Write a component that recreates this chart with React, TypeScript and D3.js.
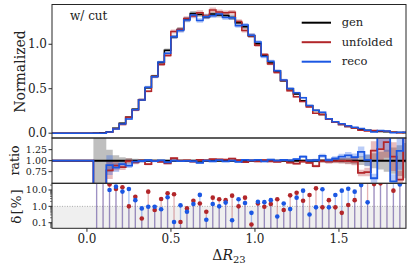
import React from "react";
import * as d3 from "d3";

// bin edges of the Delta R_23 histogram (50 bins)
const binEdges = [0, 0.0384, 0.0768, 0.1152, 0.1536, 0.192, 0.2304, 0.2688, 0.3072, 0.3456, 0.384, 0.4224, 0.4608, 0.4992, 0.5376, 0.576, 0.6144, 0.6528, 0.6912, 0.7296, 0.768, 0.8064, 0.8448, 0.8832, 0.9216, 0.96, 0.9984, 1.0368, 1.0752, 1.1136, 1.152, 1.1904, 1.2288, 1.2672, 1.3056, 1.344, 1.3824, 1.4208, 1.4592, 1.4976, 1.536, 1.5744, 1.6128, 1.6512, 1.6896, 1.728, 1.7664, 1.8048, 1.8432, 1.8816, 1.92];

const genVals = [0, 0.002, 0.005, 0.015, 0.056, 0.113, 0.18, 0.27, 0.377, 0.512, 0.64, 0.794, 0.933, 1.083, 1.167, 1.28, 1.347, 1.335, 1.31, 1.34, 1.328, 1.322, 1.3, 1.243, 1.196, 1.097, 1.005, 0.877, 0.79, 0.7, 0.59, 0.5, 0.44, 0.365, 0.31, 0.256, 0.211, 0.162, 0.124, 0.098, 0.076, 0.061, 0.045, 0.032, 0.024, 0.019, 0.015, 0.011, 0.008, 0.006];

const ratioUnf = [1, 0, 0, 0.78, 0.885, 0.854, 0.99, 0.961, 0.998, 0.921, 0.994, 0.972, 0.937, 1.055, 0.999, 1.0075, 0.978, 1.015, 1.0047, 1.034, 1.027, 1.024, 1.045, 1.01, 0.966, 0.9992, 0.985, 1.0095, 0.986, 0.973, 1.006, 0.953, 0.932, 0.978, 0.951, 0.874, 0.9913, 0.976, 0.9913, 0.996, 0.988, 0.976, 0.72, 0.74, 1.23, 1.26, 1.42, 1.091, 0.57, 1.6];

const ratioReco = [1, 0, 0, 0.9, 0.84, 0.92, 0.885, 0.976, 0.9925, 1.0095, 0.9905, 1.0066, 0.964, 1.001, 0.9885, 0.9953, 0.986, 0.95, 0.9985, 0.986, 1.01, 0.983, 0.9986, 0.973, 1.016, 1.004, 1.019, 0.982, 1.024, 1.0024, 1.015, 1.0068, 1.034, 1.091, 1.0032, 1.0087, 1.11, 1.0087, 1.049, 1.091, 1.12, 1.079, 1.2, 1.0176, 0.6, 1.6, 1.6, 0.53, 1.22, 1.6];

// relative stat. uncertainty per bin
const statErr = [0, 0.6, 0.6, 0.25, 0.12, 0.08, 0.06, 0.045, 0.035, 0.03, 0.025, 0.02, 0.02, 0.02, 0.02, 0.02, 0.02, 0.02, 0.02, 0.02, 0.02, 0.02, 0.02, 0.02, 0.02, 0.02, 0.02, 0.02, 0.02, 0.02, 0.02, 0.022, 0.025, 0.028, 0.03, 0.035, 0.04, 0.045, 0.05, 0.06, 0.07, 0.08, 0.1, 0.13, 0.17, 0.2, 0.25, 0.3, 0.35, 0.4];

// delta [%]
const deltaUnf: (number | null)[] = [null, 100, 100, 22, 11.5, 14.6, 1.0, 3.9, 0.18, 7.9, 0.6, 2.8, 6.3, 5.5, 0.11, 0.75, 2.2, 1.5, 0.47, 3.4, 2.7, 2.4, 4.5, 1.0, 3.4, 0.077, 1.5, 0.95, 1.4, 2.7, 0.6, 4.7, 6.8, 2.2, 4.9, 12.6, 0.87, 2.4, 0.87, 0.4, 1.2, 2.4, 28, 26, 23, 25.5, 42, 9.1, 43, 60];
const deltaReco: (number | null)[] = [null, 100, 100, 10, 16, 8, 11.5, 2.4, 0.75, 0.95, 0.95, 0.66, 3.6, 0.11, 1.15, 0.47, 1.4, 5.0, 0.15, 1.4, 1.0, 1.7, 0.14, 2.7, 1.6, 0.4, 1.9, 1.8, 2.4, 0.24, 1.5, 0.68, 3.4, 9.1, 0.32, 0.87, 11, 0.87, 4.9, 9.1, 12, 7.9, 20, 1.76, 40, 60, 60, 47, 22, 60];

const xTicks = [0.0, 0.5, 1.0, 1.5];
const topTicks = [0.0, 0.5, 1.0];
const ratioTicks = [0.75, 1.0, 1.25];
const deltaTicks = [0.1, 1.0, 10.0];

const legendItems = [
    { label: "gen", color: "#000000" },
    { label: "unfolded", color: "#b2262a" },
    { label: "reco", color: "#1b57e3" },
];

const RED = "#b2262a";
const BLUE = "#1b57e3";
const FONT = "DejaVu Serif";

const L = 52, R = 406;
const TOP = [4.5, 138];
const RAT = [138, 183.3];
const DEL = [183.3, 228.3];

function App() {
    const x = d3.scaleLinear().domain([-0.208, 1.899]).range([L, R]);
    const yTop = d3.scaleLinear().domain([-0.054, 1.447]).range([TOP[1], TOP[0]]);
    const yRat = d3.scaleLinear().domain([0.485, 1.515]).range([RAT[1], RAT[0]]);
    const yDel = d3.scaleLog().domain([0.0454, 25.7]).range([DEL[1], DEL[0]]);
    const delTop = 25.7;

    const n = genVals.length;
    const unfVals = genVals.map((g, i) => g * ratioUnf[i]);
    const recoVals = genVals.map((g, i) => g * ratioReco[i]);

    const stepLine = (vals: number[], pad: number, y: d3.ScaleLinear<number, number>) => {
        const pts: [number, number][] = [[x.domain()[0], pad]];
        vals.forEach((v, i) => pts.push([binEdges[i], v]));
        pts.push([binEdges[n], vals[n - 1]]);
        return d3.line<[number, number]>()
            .x(d => x(d[0]))
            .y(d => y(d[1]))
            .curve(d3.curveStepAfter)(pts) as string;
    };

    const stepBand = (lo: number[], hi: number[], y: d3.ScaleLinear<number, number>) => {
        const pts: [number, number, number][] = lo.map((v, i) => [binEdges[i], v, hi[i]]);
        pts.push([binEdges[n], lo[n - 1], hi[n - 1]]);
        return d3.area<[number, number, number]>()
            .x(d => x(d[0]))
            .y0(d => y(d[1]))
            .y1(d => y(d[2]))
            .curve(d3.curveStepAfter)(pts) as string;
    };

    const bandTop = (vals: number[]) => stepBand(vals.map((v, i) => v * (1 - statErr[i])), vals.map((v, i) => v * (1 + statErr[i])), yTop);
    const bandRat = (vals: number[]) => stepBand(vals.map((v, i) => v * (1 - statErr[i])), vals.map((v, i) => v * (1 + statErr[i])), yRat);
    const ones = genVals.map(() => 1);

    const centers = genVals.map((_, i) => (binEdges[i] + binEdges[i + 1]) / 2);

    const minorLog: number[] = [];
    [0.01, 0.1, 1, 10].forEach(dec => {
        for (let k = 2; k <= 9; k++) {
            const v = dec * k;
            if (v > 0.0454 && v < 25.7) minorLog.push(v);
        }
    });

    const frame = "#262626";

    return (
        <svg width={411} height={271} style={{ position: "absolute", left: 0, top: 0, background: "#fff" }} fontFamily={FONT}>
            <defs>
                <clipPath id="clipTop"><rect x={L} y={TOP[0]} width={R - L} height={TOP[1] - TOP[0]} /></clipPath>
                <clipPath id="clipRat"><rect x={L} y={RAT[0]} width={R - L} height={RAT[1] - RAT[0]} /></clipPath>
                <clipPath id="clipDel"><rect x={L} y={DEL[0]} width={R - L} height={DEL[1] - DEL[0]} /></clipPath>
            </defs>

            {/* top panel */}
            <g clipPath="url(#clipTop)">
                <path d={bandTop(genVals)} fill="#000" fillOpacity={0.25} />
                <path d={bandTop(unfVals)} fill={RED} fillOpacity={0.3} />
                <path d={bandTop(recoVals)} fill={BLUE} fillOpacity={0.3} />
                <path d={stepLine(genVals, 0, yTop)} fill="none" stroke="#000" strokeWidth={1.5} />
                <path d={stepLine(unfVals, 0, yTop)} fill="none" stroke={RED} strokeWidth={1.5} />
                <path d={stepLine(recoVals, 0, yTop)} fill="none" stroke={BLUE} strokeWidth={1.5} />
            </g>
            <rect x={L} y={TOP[0]} width={R - L} height={TOP[1] - TOP[0]} fill="none" stroke={frame} strokeWidth={1} />
            {topTicks.map(t => (
                <g key={t}>
                    <line x1={L - 3.5} x2={L} y1={yTop(t)} y2={yTop(t)} stroke={frame} />
                    <text x={L - 5} y={yTop(t)} dy="0.35em" textAnchor="end" fontSize={12} fill="#222">{t.toFixed(1)}</text>
                </g>
            ))}
            <text transform={`translate(20,71.5) rotate(-90)`} textAnchor="middle" dy="0.35em" fontSize={14} fill="#222">Normalized</text>
            <text x={70} y={20} fontSize={12} fill="#222">w/ cut</text>
            {legendItems.map((d, i) => (
                <g key={d.label}>
                    <line x1={301.7} x2={331} y1={22.7 + i * 19.5} y2={22.7 + i * 19.5} stroke={d.color} strokeWidth={2} />
                    <text x={341.7} y={22.7 + i * 19.5} dy="0.32em" fontSize={11.5} fill="#222">{d.label}</text>
                </g>
            ))}

            {/* ratio panel */}
            <g clipPath="url(#clipRat)">
                <path d={stepBand(ones.map((v, i) => v - statErr[i]), ones.map((v, i) => v + statErr[i]), yRat)} fill="#000" fillOpacity={0.25} />
                <path d={bandRat(ratioUnf)} fill={RED} fillOpacity={0.3} />
                <path d={bandRat(ratioReco)} fill={BLUE} fillOpacity={0.3} />
                <path d={stepLine(ones, 1, yRat)} fill="none" stroke="#000" strokeWidth={2} />
                <path d={stepLine(ratioUnf, 1, yRat)} fill="none" stroke={RED} strokeWidth={1.8} />
                <path d={stepLine(ratioReco, 1, yRat)} fill="none" stroke={BLUE} strokeWidth={1.8} />
            </g>
            <rect x={L} y={RAT[0]} width={R - L} height={RAT[1] - RAT[0]} fill="none" stroke={frame} strokeWidth={1} />
            {ratioTicks.map(t => (
                <g key={t}>
                    <line x1={L - 3.5} x2={L} y1={yRat(t)} y2={yRat(t)} stroke={frame} />
                    <text x={L - 5} y={yRat(t)} dy="0.35em" textAnchor="end" fontSize={9.5} fill="#222">{t.toFixed(2)}</text>
                </g>
            ))}
            <text transform={`translate(15,160.5) rotate(-90)`} textAnchor="middle" dy="0.35em" fontSize={12.5} fill="#222">ratio</text>

            {/* delta panel */}
            <rect x={L} y={yDel(1)} width={R - L} height={DEL[1] - yDel(1)} fill="#efefef" />
            <line x1={L} x2={R} y1={yDel(1)} y2={yDel(1)} stroke="#999" strokeWidth={0.8} strokeDasharray="1,1.5" />
            <g clipPath="url(#clipDel)">
                {centers.map((c, i) => {
                    const du = deltaUnf[i], dr = deltaReco[i];
                    return (
                        <g key={i}>
                            {du !== null && <line x1={x(c)} x2={x(c)} y1={DEL[1]} y2={yDel(Math.min(du, delTop * 2))} stroke={RED} strokeOpacity={0.35} strokeWidth={1.3} />}
                            {dr !== null && <line x1={x(c)} x2={x(c)} y1={DEL[1]} y2={yDel(Math.min(dr, delTop * 2))} stroke={BLUE} strokeOpacity={0.35} strokeWidth={1.3} />}
                        </g>
                    );
                })}
                {centers.map((c, i) => {
                    const du = deltaUnf[i], dr = deltaReco[i];
                    return (
                        <g key={"p" + i}>
                            {du !== null && du < delTop && <circle cx={x(c)} cy={yDel(du)} r={2.3} fill={RED} />}
                            {dr !== null && dr < delTop && <circle cx={x(c)} cy={yDel(dr)} r={2.3} fill={BLUE} />}
                        </g>
                    );
                })}
            </g>
            <rect x={L} y={DEL[0]} width={R - L} height={DEL[1] - DEL[0]} fill="none" stroke={frame} strokeWidth={1} />
            {deltaTicks.map(t => (
                <g key={t}>
                    <line x1={L - 3.5} x2={L} y1={yDel(t)} y2={yDel(t)} stroke={frame} />
                    <text x={L - 5} y={yDel(t)} dy="0.35em" textAnchor="end" fontSize={9.5} fill="#222">{t.toFixed(1)}</text>
                </g>
            ))}
            {minorLog.map(t => (
                <line key={t} x1={L - 2} x2={L} y1={yDel(t)} y2={yDel(t)} stroke={frame} strokeWidth={0.6} />
            ))}
            <text transform={`translate(16,206) rotate(-90)`} textAnchor="middle" dy="0.35em" fontSize={13.5} fill="#222" letterSpacing={1}>δ[%]</text>

            {/* x axis */}
            {xTicks.map(t => (
                <g key={t}>
                    <line x1={x(t)} x2={x(t)} y1={DEL[1]} y2={DEL[1] + 3.5} stroke={frame} />
                    <text x={x(t)} y={242.5} textAnchor="middle" fontSize={12} fill="#222">{t.toFixed(1)}</text>
                </g>
            ))}
            <text x={229} y={260} textAnchor="middle" fontSize={14} fill="#222">
                Δ<tspan fontStyle="italic">R</tspan><tspan fontSize={10} dy={3}>23</tspan>
            </text>
        </svg>
    );
}

export default App;
